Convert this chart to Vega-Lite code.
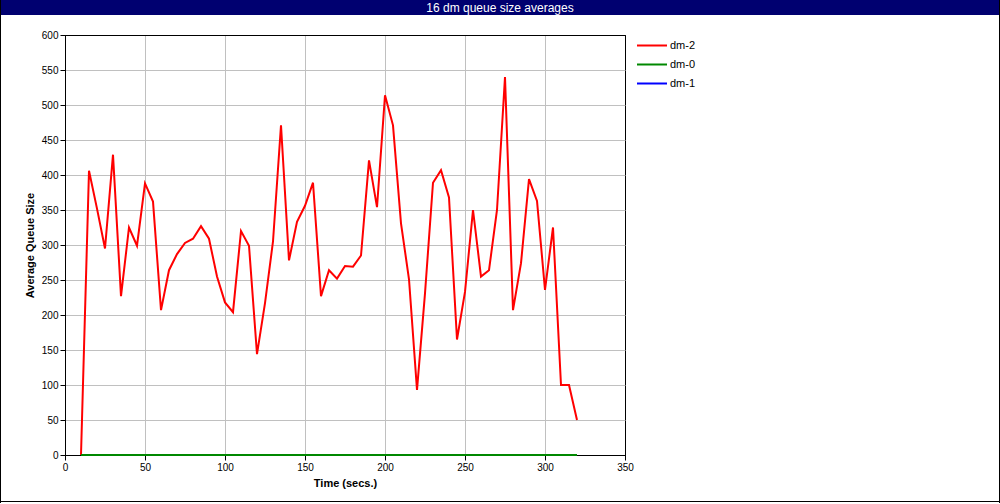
{
  "$schema": "https://vega.github.io/schema/vega-lite/v6.json",
  "padding": 0,
  "background": "white",
  "bounds": "full",
  "spacing": 0,
  "resolve": {"scale": {"color": "independent"}, "legend": {"color": "independent"}},
  "config": {
    "view": {"stroke": null},
    "font": "Liberation Sans",
    "axis": {"labelFont": "Liberation Sans", "titleFont": "Liberation Sans"},
    "legend": {"labelFont": "Liberation Sans"}
  },
  "hconcat": [
    {
      "width": 1, "height": 503,
      "data": {"values": [{"a": 1}]},
      "mark": {"type": "rect", "color": "black"}
    },
    {
      "bounds": "full",
      "spacing": 12,
      "resolve": {"scale": {"color": "independent"}, "legend": {"color": "independent"}},
      "vconcat": [
        {
          "bounds": "full",
          "spacing": 14,
          "resolve": {"scale": {"color": "independent"}, "legend": {"color": "independent"}},
          "vconcat": [
            {
              "width": 998, "height": 15,
              "view": {"fill": "#000070", "stroke": null},
              "data": {"values": [{"label": "16 dm queue size averages"}]},
              "mark": {"type": "text", "color": "white", "fontSize": 12, "font": "Liberation Sans", "baseline": "middle", "align": "center"},
              "encoding": {"text": {"field": "label", "type": "nominal"}}
            },
            {
              "bounds": "flush",
              "spacing": 0,
              "resolve": {"scale": {"color": "independent"}, "legend": {"color": "independent"}},
              "hconcat": [
                {
                  "width": 64, "height": 420,
                  "data": {"values": [{"a": 1}]},
                  "mark": {"type": "text", "text": ""}
                },
                {
                  "width": 560, "height": 420,
                  "view": {"stroke": "black", "strokeWidth": 1},
                  "data": {"values": [
                    {"t": 10, "dm-2": 0, "dm-0": 0, "dm-1": 0},
                    {"t": 15, "dm-2": 406, "dm-0": 0, "dm-1": 0},
                    {"t": 20, "dm-2": 352, "dm-0": 0, "dm-1": 0},
                    {"t": 25, "dm-2": 295, "dm-0": 0, "dm-1": 0},
                    {"t": 30, "dm-2": 429, "dm-0": 0, "dm-1": 0},
                    {"t": 35, "dm-2": 227, "dm-0": 0, "dm-1": 0},
                    {"t": 40, "dm-2": 325, "dm-0": 0, "dm-1": 0},
                    {"t": 45, "dm-2": 299, "dm-0": 0, "dm-1": 0},
                    {"t": 50, "dm-2": 388, "dm-0": 0, "dm-1": 0},
                    {"t": 55, "dm-2": 362, "dm-0": 0, "dm-1": 0},
                    {"t": 60, "dm-2": 207, "dm-0": 0, "dm-1": 0},
                    {"t": 65, "dm-2": 264, "dm-0": 0, "dm-1": 0},
                    {"t": 70, "dm-2": 287, "dm-0": 0, "dm-1": 0},
                    {"t": 75, "dm-2": 303, "dm-0": 0, "dm-1": 0},
                    {"t": 80, "dm-2": 309, "dm-0": 0, "dm-1": 0},
                    {"t": 85, "dm-2": 327, "dm-0": 0, "dm-1": 0},
                    {"t": 90, "dm-2": 309, "dm-0": 0, "dm-1": 0},
                    {"t": 95, "dm-2": 255, "dm-0": 0, "dm-1": 0},
                    {"t": 100, "dm-2": 218, "dm-0": 0, "dm-1": 0},
                    {"t": 105, "dm-2": 204, "dm-0": 0, "dm-1": 0},
                    {"t": 110, "dm-2": 320, "dm-0": 0, "dm-1": 0},
                    {"t": 115, "dm-2": 299, "dm-0": 0, "dm-1": 0},
                    {"t": 120, "dm-2": 144, "dm-0": 0, "dm-1": 0},
                    {"t": 125, "dm-2": 217, "dm-0": 0, "dm-1": 0},
                    {"t": 130, "dm-2": 305, "dm-0": 0, "dm-1": 0},
                    {"t": 135, "dm-2": 471, "dm-0": 0, "dm-1": 0},
                    {"t": 140, "dm-2": 278, "dm-0": 0, "dm-1": 0},
                    {"t": 145, "dm-2": 333, "dm-0": 0, "dm-1": 0},
                    {"t": 150, "dm-2": 356, "dm-0": 0, "dm-1": 0},
                    {"t": 155, "dm-2": 389, "dm-0": 0, "dm-1": 0},
                    {"t": 160, "dm-2": 227, "dm-0": 0, "dm-1": 0},
                    {"t": 165, "dm-2": 264, "dm-0": 0, "dm-1": 0},
                    {"t": 170, "dm-2": 252, "dm-0": 0, "dm-1": 0},
                    {"t": 175, "dm-2": 270, "dm-0": 0, "dm-1": 0},
                    {"t": 180, "dm-2": 269, "dm-0": 0, "dm-1": 0},
                    {"t": 185, "dm-2": 285, "dm-0": 0, "dm-1": 0},
                    {"t": 190, "dm-2": 421, "dm-0": 0, "dm-1": 0},
                    {"t": 195, "dm-2": 354, "dm-0": 0, "dm-1": 0},
                    {"t": 200, "dm-2": 514, "dm-0": 0, "dm-1": 0},
                    {"t": 205, "dm-2": 471, "dm-0": 0, "dm-1": 0},
                    {"t": 210, "dm-2": 331, "dm-0": 0, "dm-1": 0},
                    {"t": 215, "dm-2": 251, "dm-0": 0, "dm-1": 0},
                    {"t": 220, "dm-2": 93, "dm-0": 0, "dm-1": 0},
                    {"t": 225, "dm-2": 231, "dm-0": 0, "dm-1": 0},
                    {"t": 230, "dm-2": 389, "dm-0": 0, "dm-1": 0},
                    {"t": 235, "dm-2": 407, "dm-0": 0, "dm-1": 0},
                    {"t": 240, "dm-2": 368, "dm-0": 0, "dm-1": 0},
                    {"t": 245, "dm-2": 165, "dm-0": 0, "dm-1": 0},
                    {"t": 250, "dm-2": 233, "dm-0": 0, "dm-1": 0},
                    {"t": 255, "dm-2": 350, "dm-0": 0, "dm-1": 0},
                    {"t": 260, "dm-2": 255, "dm-0": 0, "dm-1": 0},
                    {"t": 265, "dm-2": 264, "dm-0": 0, "dm-1": 0},
                    {"t": 270, "dm-2": 350, "dm-0": 0, "dm-1": 0},
                    {"t": 275, "dm-2": 540, "dm-0": 0, "dm-1": 0},
                    {"t": 280, "dm-2": 207, "dm-0": 0, "dm-1": 0},
                    {"t": 285, "dm-2": 274, "dm-0": 0, "dm-1": 0},
                    {"t": 290, "dm-2": 394, "dm-0": 0, "dm-1": 0},
                    {"t": 295, "dm-2": 363, "dm-0": 0, "dm-1": 0},
                    {"t": 300, "dm-2": 236, "dm-0": 0, "dm-1": 0},
                    {"t": 305, "dm-2": 325, "dm-0": 0, "dm-1": 0},
                    {"t": 310, "dm-2": 100, "dm-0": 0, "dm-1": 0},
                    {"t": 315, "dm-2": 100, "dm-0": 0, "dm-1": 0},
                    {"t": 320, "dm-2": 50, "dm-0": 0, "dm-1": 0}
                  ]},
                  "transform": [{"fold": ["dm-2", "dm-0", "dm-1"], "as": ["series", "value"]}],
                  "encoding": {
                    "x": {
                      "field": "t", "type": "quantitative",
                      "scale": {"domain": [0, 350], "nice": false, "zero": false},
                      "axis": {
                        "values": [0, 50, 100, 150, 200, 250, 300, 350],
                        "grid": true,
                        "gridColor": {"condition": {"test": "datum.value === 0 || datum.value === 350", "value": "black"}, "value": "#c0c0c0"},
                        "gridWidth": 1,
                        "domainColor": "black",
                        "tickColor": "black",
                        "tickSize": 5,
                        "labelFontSize": 10,
                        "labelColor": "black",
                        "labelPadding": 2,
                        "labelFlush": false,
                        "labelOverlap": false,
                        "title": "Time (secs.)",
                        "titleFontSize": 11,
                        "titleFontWeight": "bold",
                        "titleColor": "black",
                        "titleBaseline": "middle",
                        "titleX": 280,
                        "titleY": 28
                      }
                    },
                    "y": {
                      "field": "value", "type": "quantitative",
                      "scale": {"domain": [0, 600], "nice": false},
                      "axis": {
                        "values": [0, 50, 100, 150, 200, 250, 300, 350, 400, 450, 500, 550, 600],
                        "grid": true,
                        "gridColor": {"condition": {"test": "datum.value === 0 || datum.value === 600", "value": "black"}, "value": "#c0c0c0"},
                        "gridWidth": 1,
                        "domainColor": "black",
                        "tickColor": "black",
                        "tickSize": 5,
                        "labelFontSize": 10,
                        "labelColor": "black",
                        "labelPadding": 2,
                        "labelFlush": false,
                        "labelOverlap": false,
                        "title": "Average Queue Size",
                        "titleFontSize": 11,
                        "titleFontWeight": "bold",
                        "titleColor": "black",
                        "titleBaseline": "middle",
                        "titleX": -35,
                        "titleY": 210
                      }
                    },
                    "color": {
                      "field": "series", "type": "nominal",
                      "scale": {"domain": ["dm-2", "dm-0", "dm-1"], "range": ["#ff0000", "#008800", "#0000ff"]},
                      "legend": {
                        "title": null,
                        "orient": "none",
                        "legendX": 568,
                        "legendY": -1,
                        "padding": 3,
                        "symbolType": "stroke",
                        "symbolSize": 900,
                        "symbolStrokeWidth": 2,
                        "labelFontSize": 11,
                        "labelColor": "black",
                        "labelOffset": 2,
                        "clipHeight": 17,
                        "rowPadding": 2
                      }
                    }
                  },
                  "layer": [
                    {"transform": [{"filter": "datum.series === 'dm-1'"}], "mark": {"type": "line", "strokeWidth": 2}},
                    {"transform": [{"filter": "datum.series === 'dm-2'"}], "mark": {"type": "line", "strokeWidth": 2}},
                    {"transform": [{"filter": "datum.series === 'dm-0'"}], "mark": {"type": "line", "strokeWidth": 2}}
                  ]
                }
              ]
            }
          ]
        },
        {
          "width": 998, "height": 1,
          "data": {"values": [{"a": 1}]},
          "mark": {"type": "rect", "color": "black"}
        }
      ]
    },
    {
      "width": 1, "height": 503,
      "data": {"values": [{"a": 1}]},
      "mark": {"type": "rect", "color": "black"}
    }
  ]
}
